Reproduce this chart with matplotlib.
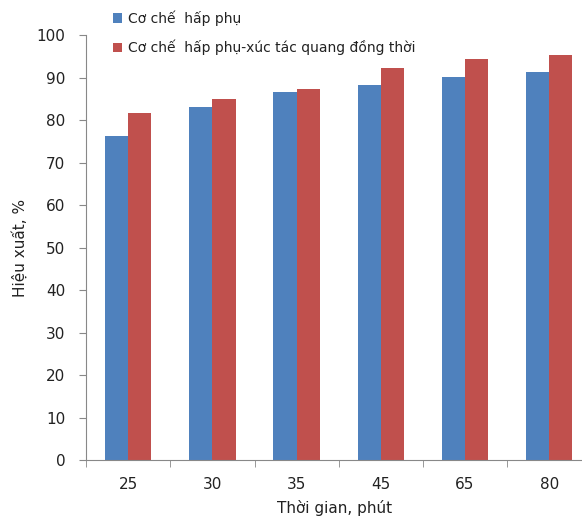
import numpy as np
import matplotlib

matplotlib.use("Agg")
import matplotlib.pyplot as plt
from matplotlib.ticker import FixedLocator

categories = ["25", "30", "35", "45", "65", "80"]
adsorption = [76.2, 83.1, 86.6, 88.2, 90.1, 91.3]
adsorption_photo = [81.6, 85.0, 87.3, 92.3, 94.5, 95.4]

labels = ["Cơ chế  hấp phụ", "Cơ chế  hấp phụ-xúc tác quang đồng thời"]
colors = ["#4F81BD", "#C0504D"]

fig = plt.figure(figsize=(5.82, 5.17), dpi=100)
ax = fig.add_axes([0.148, 0.110, 0.852, 0.822])

x = np.arange(len(categories))
width = 0.275
b1 = ax.bar(x - width / 2, adsorption, width, color=colors[0], label=labels[0])
b2 = ax.bar(x + width / 2, adsorption_photo, width, color=colors[1], label=labels[1])

ax.set_ylim(0, 100)
ax.set_xlim(-0.5, 5.39)
ax.set_yticks(range(0, 101, 10))
ax.set_xticks(x)
ax.set_xticklabels(categories)
ax.xaxis.set_minor_locator(FixedLocator(np.arange(-0.5, 6, 1.0)))
ax.tick_params(axis="x", which="major", length=0, pad=12, labelsize=11, colors="#222222")
ax.tick_params(axis="x", which="minor", length=5, color="#888888")
ax.tick_params(axis="y", length=5, color="#888888", labelsize=11, colors="#222222")
ax.tick_params(axis="y", which="major", pad=10)

for side in ["top", "right"]:
    ax.spines[side].set_visible(False)
for side in ["left", "bottom"]:
    ax.spines[side].set_color("#888888")

ax.set_ylabel("Hiệu xuất, %", fontsize=11, color="#222222", labelpad=6)
ax.set_xlabel("Thời gian, phút", fontsize=11, color="#222222", labelpad=6)

fig.legend(
    handles=[b1, b2],
    labels=labels,
    loc="upper left",
    bbox_to_anchor=(0.172, 1.004),
    frameon=False,
    fontsize=10,
    handlelength=0.7,
    handleheight=0.7,
    handletextpad=0.4,
    labelspacing=1.0,
    labelcolor="#222222",
)

fig.savefig("out.png", dpi=100)
